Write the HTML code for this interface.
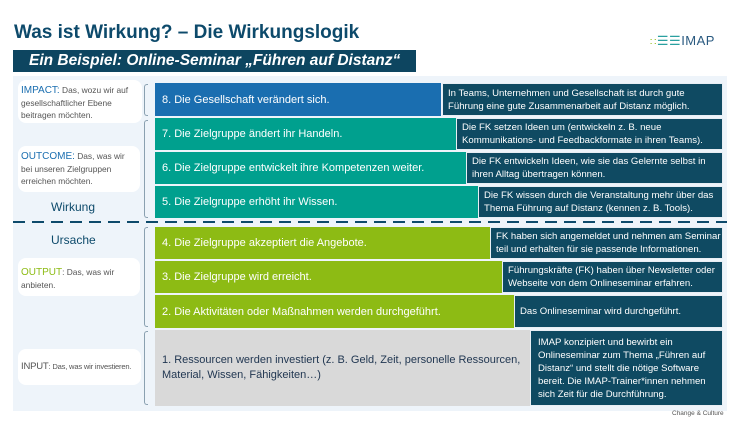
<!DOCTYPE html>
<html><head><meta charset="utf-8"><style>
*{margin:0;padding:0;box-sizing:border-box}
body{width:742px;height:448px;background:#fff;position:relative;overflow:hidden;font-family:"Liberation Sans",sans-serif}
.a{position:absolute}
.bar{position:absolute;color:#fff;font-size:11px;display:flex;align-items:center;padding-left:7px}
.dk{position:absolute;background:#0f4a62;color:#fff;font-size:9.6px;line-height:13px;display:flex;align-items:center;padding-left:5px;border:1px solid #e8eef4}
.lb{position:absolute;background:#fff;border-radius:8px;font-size:8.4px;color:#555;line-height:12px;padding:4px 3px}
.br{position:absolute;left:144px;width:4px;border:1px solid #8aa0b0;border-right:none;border-radius:3px 0 0 3px}
</style></head><body>
<div class="a" style="left:14px;top:22px;font-size:19px;font-weight:bold;color:#0d4a6b">Was ist Wirkung? – Die Wirkungslogik</div>
<div class="a" style="left:13px;top:50px;width:403px;height:22px;background:#0d4560;color:#fff;font-size:15.5px;font-weight:bold;font-style:italic;padding-left:16px;line-height:22px">Ein Beispiel: Online-Seminar „Führen auf Distanz“</div>
<div class="a" style="left:650px;top:33px;font-size:13px;color:#2a5a80;letter-spacing:0.5px"><span style="color:#8dbb14;font-size:10px">∷</span><span style="color:#2aa0a0">☰☰</span>IMAP</div>
<div class="a" style="left:13px;top:76px;width:714px;height:335px;background:#eef4fa"></div>
<div class="lb" style="left:18px;top:80px;width:124px;height:43px"><span style="color:#1a6eb0;font-size:10px">IMPACT:</span> Das, wozu wir auf gesellschaftlicher Ebene beitragen möchten.</div>
<div class="lb" style="left:18px;top:146px;width:122px;height:46px"><span style="color:#1a6eb0;font-size:10px">OUTCOME:</span> Das, was wir bei unseren Zielgruppen erreichen möchten.</div>
<div class="a" style="left:51px;top:200px;font-size:12px;color:#0d4a6b">Wirkung</div>
<div class="a" style="left:13px;top:221px;width:714px;height:2px;background:repeating-linear-gradient(90deg,#0d4a6b 0 12px,transparent 12px 19px)"></div>
<div class="a" style="left:51px;top:233px;font-size:12px;color:#0d4a6b">Ursache</div>
<div class="lb" style="left:18px;top:258px;width:122px;height:38px;padding-top:8px"><span style="color:#8dbb14;font-size:10px">OUTPUT</span>: Das, was wir anbieten.</div>
<div class="lb" style="left:18px;top:349px;width:123px;height:36px;padding-top:12px;white-space:nowrap;font-size:7.6px;letter-spacing:-0.2px"><span style="font-size:9.5px">INPUT</span>: Das, was wir investieren.</div>
<div class="br" style="top:84px;height:32px"></div>
<div class="br" style="top:120px;height:98px"></div>
<div class="br" style="top:227px;height:100px"></div>
<div class="br" style="top:331px;height:74px"></div>
<div class="bar" style="left:155px;top:83px;width:286px;height:33px;background:#1a6eb0">8. Die Gesellschaft verändert sich.</div>
<div class="dk" style="left:442px;top:83px;width:281px;height:33px">In Teams, Unternehmen und Gesellschaft ist durch gute Führung eine gute Zusammenarbeit auf Distanz möglich.</div>
<div class="bar" style="left:155px;top:118px;width:301px;height:32px;background:#00a08e">7. Die Zielgruppe ändert ihr Handeln.</div>
<div class="dk" style="left:456px;top:118px;width:267px;height:32px">Die FK setzen Ideen um (entwickeln z. B. neue Kommunikations- und Feedbackformate in ihren Teams).</div>
<div class="bar" style="left:155px;top:152px;width:311px;height:32px;background:#00a08e">6. Die Zielgruppe entwickelt ihre Kompetenzen weiter.</div>
<div class="dk" style="left:466px;top:152px;width:257px;height:32px">Die FK entwickeln Ideen, wie sie das Gelernte selbst in ihren Alltag übertragen können.</div>
<div class="bar" style="left:155px;top:186px;width:323px;height:32px;background:#00a08e">5. Die Zielgruppe erhöht ihr Wissen.</div>
<div class="dk" style="left:478px;top:186px;width:245px;height:32px">Die FK wissen durch die Veranstaltung mehr über das Thema Führung auf Distanz (kennen z. B. Tools).</div>
<div class="bar" style="left:155px;top:227px;width:335px;height:32px;background:#8dbb14">4. Die Zielgruppe akzeptiert die Angebote.</div>
<div class="dk" style="left:490px;top:227px;width:233px;height:32px">FK haben sich angemeldet und nehmen am Seminar teil und erhalten für sie passende Informationen.</div>
<div class="bar" style="left:155px;top:261px;width:347px;height:32px;background:#8dbb14">3. Die Zielgruppe wird erreicht.</div>
<div class="dk" style="left:502px;top:261px;width:221px;height:32px">Führungskräfte (FK) haben über Newsletter oder Webseite von dem Onlineseminar erfahren.</div>
<div class="bar" style="left:155px;top:295px;width:359px;height:33px;background:#8dbb14">2. Die Aktivitäten oder Maßnahmen werden durchgeführt.</div>
<div class="dk" style="left:514px;top:295px;width:209px;height:33px">Das Onlineseminar wird durchgeführt.</div>
<div class="bar" style="left:155px;top:330px;width:375px;height:76px;background:#d9d9d9;color:#1f3550;line-height:15px">1. Ressourcen werden investiert (z. B. Geld, Zeit, personelle Ressourcen, Material, Wissen, Fähigkeiten…)</div>
<div class="dk" style="left:530px;top:330px;width:193px;height:76px;padding-left:7px">IMAP konzipiert und bewirbt ein Onlineseminar zum Thema „Führen auf Distanz“ und stellt die nötige Software bereit. Die IMAP-Trainer*innen nehmen sich Zeit für die Durchführung.</div>
<div class="a" style="left:672px;top:410px;font-size:6.5px;color:#555">Change &amp; Culture</div>
</body></html>
